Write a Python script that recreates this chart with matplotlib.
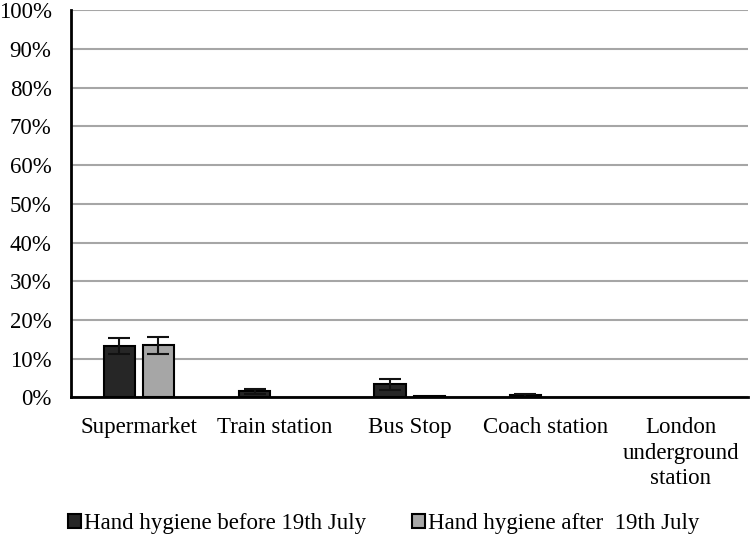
import matplotlib
matplotlib.use("Agg")
import matplotlib.pyplot as plt
import numpy as np
from matplotlib.ticker import FuncFormatter

categories = ["Supermarket", "Train station", "Bus Stop", "Coach station", "London\nunderground\nstation"]
before = [13.3, 1.6, 3.4, 0.6, 0.0]
before_err = [2.0, 0.6, 1.4, 0.4, 0.0]
after = [13.4, 0.0, 0.3, 0.0, 0.0]
after_err = [2.2, 0.0, 0.0, 0.0, 0.0]
series_labels = ["Hand hygiene before 19th July", "Hand hygiene after  19th July"]

plt.rcParams['font.family'] = ['Liberation Serif', 'DejaVu Serif']

fig = plt.figure(figsize=(7.5, 5.37), dpi=100)
ax = fig.add_axes([0.0947, 0.26, 0.903, 0.721])

x = np.arange(len(categories))
w = 0.23
gap = 0.06
off = (w + gap) / 2


def draw(xpos, vals, errs, color, label):
    lws = [1.5 if v > 0 else 0 for v in vals]
    bars = ax.bar(xpos, vals, w, color=color, edgecolor='black', linewidth=lws,
                  label=label, zorder=3)
    for xi, v, e in zip(xpos, vals, errs):
        if e > 0:
            ax.errorbar(xi, v, yerr=e, fmt='none', ecolor='#111111', elinewidth=1.5,
                        capsize=8, capthick=1.5, zorder=4)
    return bars


b1 = draw(x - off, before, before_err, '#262626', series_labels[0])
b2 = draw(x + off, after, after_err, '#a6a6a6', series_labels[1])

ax.set_xlim(-0.5, len(categories) - 0.5)
ax.set_ylim(0, 100)
ax.set_yticks(np.arange(0, 101, 10))
ax.yaxis.set_major_formatter(FuncFormatter(lambda v, p: f"{int(v)}%"))
ax.set_xticks(x)
ax.set_xticklabels(categories, fontsize=16.5, linespacing=1.3)
ax.tick_params(axis='y', labelsize=16.5, length=0, pad=14)
ax.tick_params(axis='x', length=0, pad=14)
ax.grid(axis='y', color='#a6a6a6', linewidth=1.5, zorder=0)
ax.set_axisbelow(True)
for s in ['top', 'right']:
    ax.spines[s].set_visible(False)
ax.spines['left'].set_linewidth(2)
ax.spines['bottom'].set_linewidth(2)
ax.spines['left'].set_zorder(5)
ax.spines['bottom'].set_zorder(5)

h1 = plt.Rectangle((0, 0), 1, 1, facecolor='#262626', edgecolor='black', linewidth=1.5)
h2 = plt.Rectangle((0, 0), 1, 1, facecolor='#a6a6a6', edgecolor='black', linewidth=1.5)
fig.legend(handles=[h1, h2], labels=series_labels, loc='center', bbox_to_anchor=(0.511, 0.025),
           ncol=2, frameon=False, fontsize=16.5, handlelength=0.6, handleheight=0.6,
           handletextpad=0.1, columnspacing=2.0)

fig.savefig("out.png", dpi=100)
